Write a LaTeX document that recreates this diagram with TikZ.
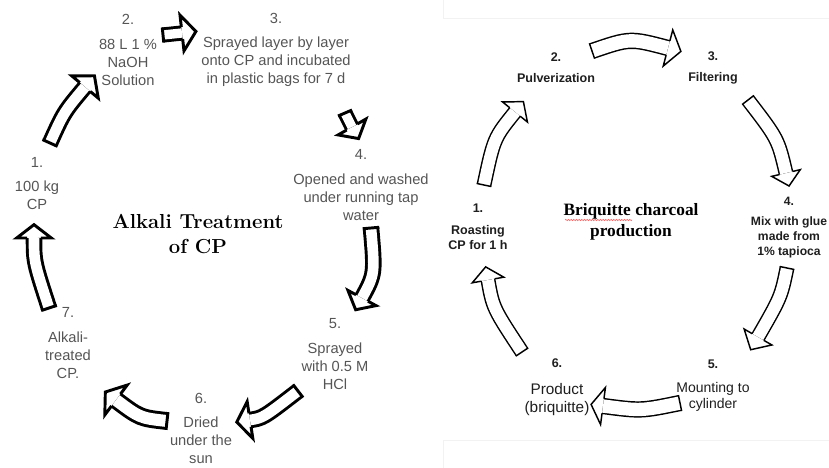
\documentclass[tikz,border=0pt]{standalone}
\usepackage{fontspec}
\usetikzlibrary{calc,decorations.pathmorphing}
\newfontfamily\sansf{Liberation Sans}
\newfontfamily\seriff{Liberation Serif}
\definecolor{labelgray}{RGB}{85,85,85}
\definecolor{darktext}{RGB}{30,30,30}
% curved block arrow: #1 line width, #2 tail, #3 control, #4 head base,
% #5 body width, #6 head half width, #7 head length
\newcommand{\blockarrow}[7]{%
  \draw [line width=#1, double=white, double distance=#5] (#2) .. controls (#3) .. (#4);
  \draw [line width=#1] ($(#2)!#5/2+#1!90:(#3)$) -- ($(#2)!#5/2+#1!-90:(#3)$);
  \draw [line width=#1, line join=miter] ($(#4)!#5/2+#1/2!-90:(#3)$) -- ($(#4)!#6!-90:(#3)$) -- ($(#4)!#7!180:(#3)$) -- ($(#4)!#6!90:(#3)$) -- ($(#4)!#5/2+#1/2!90:(#3)$);
}
\tikzset{every picture/.style={line width=0.75pt}}

\begin{document}
\begin{tikzpicture}[x=0.75pt,y=0.75pt,yscale=-1,xscale=1]
\useasboundingbox (0,0) rectangle (829,468);

%Frame of the right panel
\draw [color=gray!10, line width=0.5pt] (443,0) -- (443,18) -- (829,18) ;
\draw [color=gray!10, line width=0.5pt] (443,468) -- (443,440) -- (829,440) ;

%Arrow ends, left cycle
\coordinate (laonet) at (50,143); \coordinate (laonec) at (64,112); \coordinate (laoneh) at (85,87);
\coordinate (latwot) at (163,35); \coordinate (latwoc) at (173,34); \coordinate (latwoh) at (182,33);
\coordinate (lathreet) at (345,113); \coordinate (lathreec) at (348,120); \coordinate (lathreeh) at (352,127);
\coordinate (lafourt) at (371,228); \coordinate (lafourc) at (375,274); \coordinate (lafourh) at (362,298);
\coordinate (lafivet) at (298,391); \coordinate (lafivec) at (263,418); \coordinate (lafiveh) at (250,420);
\coordinate (lasixt) at (167,421); \coordinate (lasixc) at (140,418); \coordinate (lasixh) at (116,400);
\coordinate (lasevent) at (49,308); \coordinate (lasevenc) at (34,262); \coordinate (lasevenh) at (34,238);

%Shape: Curved Arrows, left cycle
\blockarrow{2.2pt}{laonet}{laonec}{laoneh}{8pt}{13pt}{11pt}
\blockarrow{2.2pt}{latwot}{latwoc}{latwoh}{7pt}{13.5pt}{10.5pt}
\blockarrow{2.2pt}{lathreet}{lathreec}{lathreeh}{7pt}{12pt}{10pt}
\blockarrow{2.2pt}{lafourt}{lafourc}{lafourh}{8pt}{12pt}{10pt}
\blockarrow{2.2pt}{lafivet}{lafivec}{lafiveh}{8pt}{14pt}{10pt}
\blockarrow{2.2pt}{lasixt}{lasixc}{lasixh}{9pt}{14pt}{10pt}
\blockarrow{2.2pt}{lasevent}{lasevenc}{lasevenh}{8pt}{13pt}{10pt}

%Arrow ends, right cycle
\coordinate (raonet) at (484,185); \coordinate (raonec) at (494,138); \coordinate (raoneh) at (515,112);
\coordinate (ratwot) at (592,51); \coordinate (ratwoc) at (630,38); \coordinate (ratwoh) at (668,48);
\coordinate (rathreet) at (748,100); \coordinate (rathreec) at (778,139); \coordinate (rathreeh) at (786,173);
\coordinate (rafourt) at (787,268); \coordinate (rafourc) at (781,297); \coordinate (rafourh) at (758,337);
\coordinate (rafivet) at (680,403); \coordinate (rafivec) at (641,411); \coordinate (rafiveh) at (603,406);
\coordinate (rasixt) at (522,352); \coordinate (rasixc) at (493,308); \coordinate (rasixh) at (488,280);

%Shape: Curved Arrows, right cycle
\blockarrow{1.1pt}{raonet}{raonec}{raoneh}{9pt}{12pt}{10pt}
\blockarrow{1.1pt}{ratwot}{ratwoc}{ratwoh}{10pt}{14pt}{10pt}
\blockarrow{1.1pt}{rathreet}{rathreec}{rathreeh}{9pt}{11pt}{10pt}
\blockarrow{1.1pt}{rafourt}{rafourc}{rafourh}{9pt}{12pt}{11pt}
\blockarrow{1.1pt}{rafivet}{rafivec}{rafiveh}{10pt}{14pt}{9pt}
\blockarrow{1.1pt}{rasixt}{rasixc}{rasixh}{9pt}{12pt}{10pt}

% Text Node
\draw (37,183.5) node (lone) [inner sep=0.75pt, align=center, text=labelgray] [font=\sansf\fontsize{11}{13.5}\selectfont] {1.\\[5pt]100 kg\\CP};
% Text Node
\draw (128,50) node (ltwo) [inner sep=0.75pt, align=center, text=labelgray] [font=\sansf\fontsize{11}{13.5}\selectfont] {2.\\[5pt]88 L 1 \%\\NaOH\\Solution};
% Text Node
\draw (276,50) node (lthree) [inner sep=0.75pt, align=center, text=labelgray] [font=\sansf\fontsize{11}{13.5}\selectfont] {3.\\[5pt]Sprayed layer by layer\\onto CP and incubated\\in plastic bags for 7 d};
% Text Node
\draw (361,185) node (lfour) [inner sep=0.75pt, align=center, text=labelgray] [font=\sansf\fontsize{11}{13.5}\selectfont] {4.\\[5pt]Opened and washed\\under running tap\\water};
% Text Node
\draw (335,354) node (lfive) [inner sep=0.75pt, align=center, text=labelgray] [font=\sansf\fontsize{11}{13.5}\selectfont] {5.\\[5pt]Sprayed\\with 0.5 M\\HCl};
% Text Node
\draw (201,428.5) node (lsix) [inner sep=0.75pt, align=center, text=labelgray] [font=\sansf\fontsize{11}{13.5}\selectfont] {6.\\[5pt]Dried\\under the\\sun};
% Text Node
\draw (68,343) node (lseven) [inner sep=0.75pt, align=center, text=labelgray] [font=\sansf\fontsize{11}{13.5}\selectfont] {7.\\[5pt]Alkali-\\treated\\CP.};
% Text Node
\draw (198,234) node (ltitle) [inner sep=0.75pt, align=center] [font=\bfseries\fontsize{15.2}{18.75}\selectfont] {Alkali Treatment\\of CP};

% Text Node
\draw (478,226.5) node (rone) [inner sep=0.75pt, align=center, text=darktext] [font=\sansf\bfseries\fontsize{9.4}{11.25}\selectfont] {1.\\[5pt]Roasting\\CP for 1 h};
% Text Node
\draw (556,67.5) node (rtwo) [inner sep=0.75pt, align=center, text=darktext] [font=\sansf\bfseries\fontsize{9.4}{11.25}\selectfont] {2.\\[4.5pt]Pulverization};
% Text Node
\draw (713,67.5) node (rthree) [inner sep=0.75pt, align=center, text=darktext] [font=\sansf\bfseries\fontsize{9.4}{11.25}\selectfont] {3.\\[4.5pt]Filtering};
% Text Node
\draw (789,227.5) node (rfour) [inner sep=0.5pt, align=center, text=darktext] [font=\sansf\bfseries\fontsize{9.1}{11.25}\selectfont] {4.\\[3.75pt]Mix with glue\\made from\\1\% tapioca};
% Text Node
\draw (713,386) node (rfive) [inner sep=0.75pt, align=center, text=darktext] [font=\sansf\fontsize{10.5}{12}\selectfont] {\bfseries\fontsize{9.4}{11.25}\selectfont 5.\\[6pt]Mounting to\\cylinder};
% Text Node
\draw (557,387.5) node (rsix) [inner sep=0.75pt, align=center, text=darktext] [font=\sansf\fontsize{11.5}{13.5}\selectfont] {\bfseries\fontsize{9.4}{11.25}\selectfont 6.\\[7pt]Product\\(briquitte)};
% Text Node
\draw (631,222) node (rtitle) [inner sep=0.75pt, align=center] [font=\seriff\bfseries\fontsize{13}{16}\selectfont] {Briquitte charcoal\\production};
%Spelling mark under the title
\draw [color=red!60, line width=0.5pt, decorate, decoration={snake, amplitude=0.5pt, segment length=2pt}] (565,220) -- (632,220) ;

\end{tikzpicture}
\end{document}
